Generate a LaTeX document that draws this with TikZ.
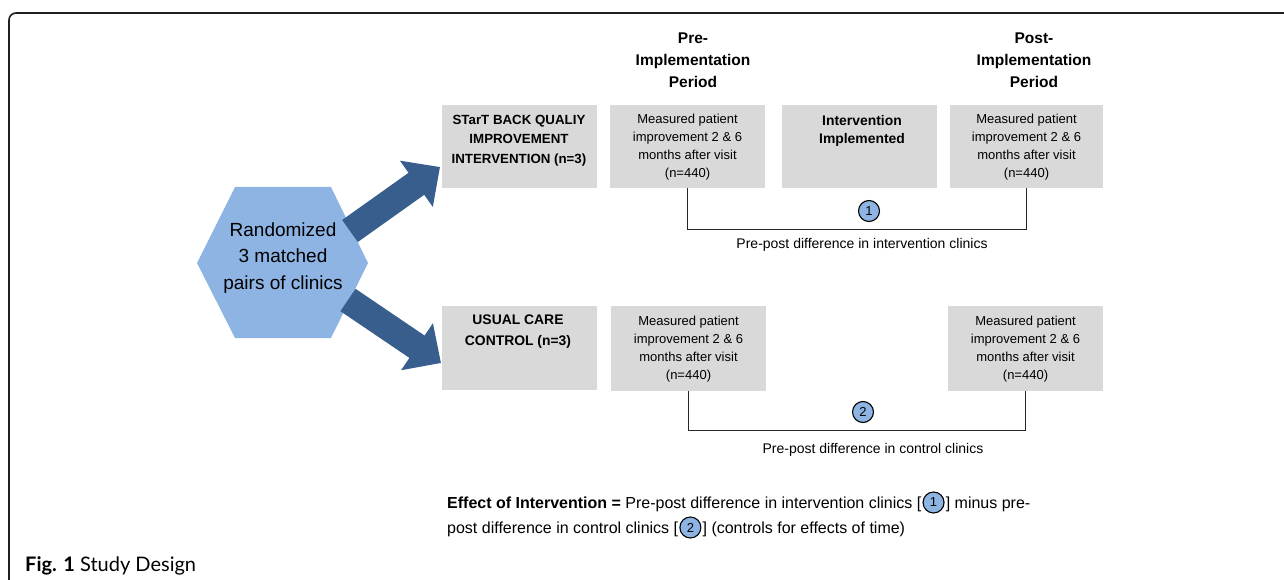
\documentclass[tikz,border=0pt]{standalone}
\usepackage{fontspec}
\setmainfont{Liberation Sans}
\newfontfamily\capfont{Lato}
\usetikzlibrary{arrows.meta,calc}
\definecolor{hexblue}{HTML}{8EB4E3}
\definecolor{arrowblue}{HTML}{385E8E}
\definecolor{boxgray}{HTML}{D9D9D9}
\definecolor{framecol}{HTML}{231F20}
\begin{document}
\begin{tikzpicture}[x=1pt,y=-1pt,
  graybox/.style={fill=boxgray, draw=none, inner sep=0pt, anchor=north west},
  boxtxt/.style={align=center, inner sep=0pt, font=\fontsize{13}{18}\selectfont},
  boldtxt/.style={align=center, inner sep=0pt, font=\bfseries\fontsize{13.3}{19.5}\selectfont},
  hdr/.style={align=center, inner sep=0pt, font=\bfseries\fontsize{15.5}{22}\selectfont},
  hextxt/.style={align=center, inner sep=0pt, font=\fontsize{19}{26.5}\selectfont},
  difftxt/.style={inner sep=0pt, font=\fontsize{14}{14}\selectfont},
  efftxt/.style={inner sep=0pt, font=\fontsize{16}{16}\selectfont},
  numcirc/.style={circle, draw=black, fill=hexblue, line width=1.1pt, minimum size=21pt, inner sep=0pt, font=\fontsize{13}{13}\selectfont},
  bracket/.style={draw=black!85, line width=1pt},
  bigarrow/.style={draw=arrowblue, line width=27pt, -{Triangle[length=29pt,width=55pt]}}
]
\useasboundingbox (0,0) rectangle (1284,580);
% frame
\draw[framecol, line width=1.6pt, rounded corners=7pt] (9,581) -- (9,13) -- (1285,13);
% hexagon
\fill[hexblue] (197,263) -- (235,187) -- (331,187) -- (368,263) -- (331,338) -- (235,338) -- cycle;
\node[hextxt] (hex) at (283,258) {Randomized\\3 matched\\pairs of clinics};
% arrows
\coordinate (a1s) at (350,231);
\coordinate (a1e) at (440,167);
\coordinate (a2s) at (348,300);
\coordinate (a2e) at (441,363);
\draw[bigarrow] (a1s) -- (a1e);
\draw[bigarrow] (a2s) -- (a2e);
% headers
\node[hdr] (h1) at (693,60) {Pre-\\Implementation\\Period};
\node[hdr] (h2) at (1034,60) {Post-\\Implementation\\Period};
% top row
\node[graybox, minimum width=155pt, minimum height=83pt] (qi) at (442,105) {};
\node[graybox, minimum width=155pt, minimum height=83pt] (pre1) at (610,105) {};
\node[graybox, minimum width=155pt, minimum height=83pt] (impl) at (782,105) {};
\node[graybox, minimum width=153pt, minimum height=83pt] (post1) at (950,105) {};
\node[boldtxt] (qit) at (519,140.5) {STarT BACK QUALIY\\IMPROVEMENT\\INTERVENTION (n=3)};
\node[boxtxt] (pre1t) at (687.5,147) {Measured patient\\improvement 2 \& 6\\months after visit\\(n=440)};
\node[boldtxt, font=\bfseries\fontsize{13.9}{18}\selectfont] (implt) at (862,131) {Intervention\\Implemented};
\node[boxtxt] (post1t) at (1026.5,147) {Measured patient\\improvement 2 \& 6\\months after visit\\(n=440)};
% bottom row
\node[graybox, minimum width=155pt, minimum height=84pt] (uc) at (442,306) {};
\node[graybox, minimum width=155pt, minimum height=85pt] (pre2) at (611,306) {};
\node[graybox, minimum width=155pt, minimum height=85pt] (post2) at (948,306) {};
\node[boldtxt, font=\bfseries\fontsize{13.9}{21}\selectfont] (uct) at (518,331.5) {USUAL CARE\\CONTROL (n=3)};
\node[boxtxt] (pre2t) at (688.5,349.5) {Measured patient\\improvement 2 \& 6\\months after visit\\(n=440)};
\node[boxtxt] (post2t) at (1025.5,349.5) {Measured patient\\improvement 2 \& 6\\months after visit\\(n=440)};
% brackets
\draw[bracket] (pre1.south) -- ++(0,41) -| (post1.south);
\draw[bracket] (pre2.south) -- ++(0,39) -| (post2.south);
\node[numcirc] (n1) at (869,211) {1};
\node[numcirc] (n2) at (863,412) {2};
\node[difftxt] (d1) at (862,245) {Pre-post difference in intervention clinics};
\node[difftxt] (d2) at (873,450) {Pre-post difference in control clinics};
% effect text
\node[efftxt, anchor=base west] (e1) at (447,508) {\textbf{Effect of Intervention =} Pre-post difference in intervention clinics [};
\node[numcirc, anchor=west] (e1c) at ($(e1.base east)+(1,-5.5)$) {1};
\node[efftxt, anchor=base west] (e1b) at ($(e1c.east |- e1.base)+(1,0)$) {] minus pre-};
\node[efftxt, anchor=base west] (e2) at (447,533) {post difference in control clinics [};
\node[numcirc, anchor=west] (e2c) at ($(e2.base east)+(1,-5.5)$) {2};
\node[efftxt, anchor=base west] (e2b) at ($(e2c.east |- e2.base)+(1,0)$) {] (controls for effects of time)};
% caption
\node[anchor=base west, inner sep=0pt, font=\capfont\fontsize{20}{20}\selectfont] (cap) at (25,571) {\textbf{Fig. 1} Study Design};
\end{tikzpicture}
\end{document}
